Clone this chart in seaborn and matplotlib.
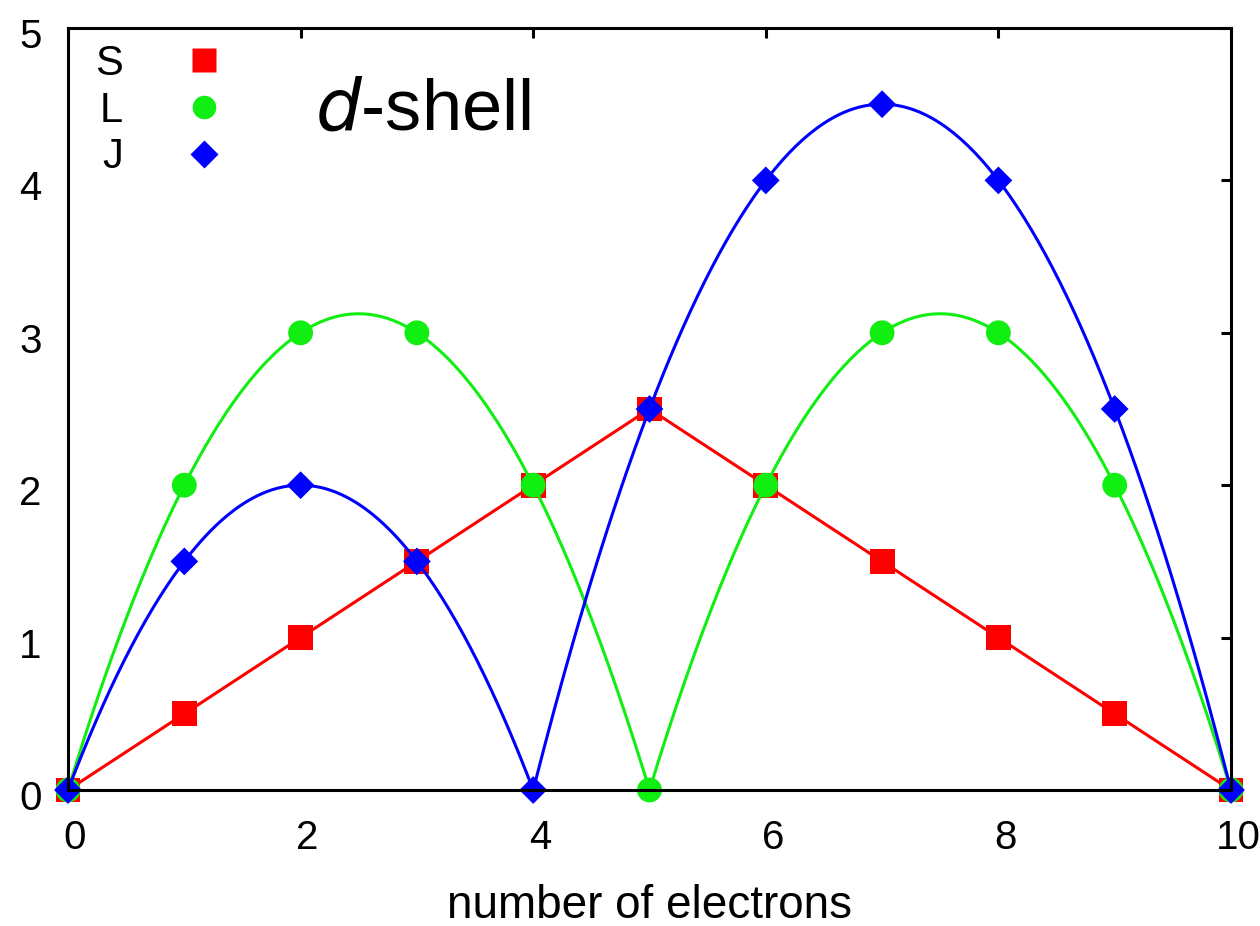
import numpy as np
import pandas as pd
import matplotlib
matplotlib.use("Agg")
import matplotlib.pyplot as plt
import matplotlib.transforms as mtransforms
import seaborn as sns
from matplotlib.lines import Line2D

# ---- data ----
n_electrons = [0, 1, 2, 3, 4, 5, 6, 7, 8, 9, 10]
S_vals = [0, 0.5, 1, 1.5, 2, 2.5, 2, 1.5, 1, 0.5, 0]
L_vals = [0, 2, 3, 3, 2, 0, 2, 3, 3, 2, 0]
J_vals = [0, 1.5, 2, 1.5, 0, 2.5, 4, 4.5, 4, 2.5, 0]
L_segments = [(0, 5), (5, 10)]
J_segments = [(0, 4), (4, 10)]
x_ticks = [0, 2, 4, 6, 8, 10]
y_ticks = [0, 1, 2, 3, 4, 5]

RED, GREEN, BLUE = "#ff0000", "#11ee11", "#0000ff"

sns.set_style("white")
plt.rcParams["font.family"] = ["Liberation Sans", "DejaVu Sans"]
for k in ["text.color", "axes.labelcolor", "xtick.color", "ytick.color"]:
    plt.rcParams[k] = "black"

W, H = 1260, 926
fig = plt.figure(figsize=(W / 100, H / 100), dpi=100)
ax = fig.add_axes([68 / W, 1 - 790 / H, (1231 - 68) / W, (790 - 28) / H])

x = np.array(n_electrons, dtype=float)


def smooth(vals, segments):
    frames = []
    for a, b in segments:
        m = (x >= a) & (x <= b)
        coef = np.polyfit(x[m], np.array(vals, dtype=float)[m], 2)
        xs = np.linspace(a, b, 200)
        frames.append(pd.DataFrame({"x": xs, "y": np.polyval(coef, xs), "seg": a}))
    return pd.concat(frames)


lw = 2.2
# S: straight lines
sns.lineplot(x=n_electrons, y=S_vals, ax=ax, color=RED, lw=lw, clip_on=False, zorder=2)
sns.scatterplot(x=n_electrons, y=S_vals, ax=ax, color=RED, marker="s", s=320,
                edgecolor="none", clip_on=False, zorder=3)
# L: smooth curves
dL = smooth(L_vals, L_segments)
for seg, g in dL.groupby("seg"):
    sns.lineplot(data=g, x="x", y="y", ax=ax, color=GREEN, lw=lw, clip_on=False,
                 zorder=4, sort=False)
sns.scatterplot(x=n_electrons, y=L_vals, ax=ax, color=GREEN, marker="o", s=320,
                edgecolor="none", clip_on=False, zorder=5)
# J: smooth curves
dJ = smooth(J_vals, J_segments)
for seg, g in dJ.groupby("seg"):
    sns.lineplot(data=g, x="x", y="y", ax=ax, color=BLUE, lw=lw, clip_on=False,
                 zorder=6, sort=False)
sns.scatterplot(x=n_electrons, y=J_vals, ax=ax, color=BLUE, marker="D", s=200,
                edgecolor="none", clip_on=False, zorder=7)

ax.set_xlim(0, 10)
ax.set_ylim(0, 5)
ax.set_xticks(x_ticks)
ax.set_yticks(y_ticks)
for sp in ax.spines.values():
    sp.set_visible(True)
    sp.set_linewidth(2.2)
    sp.set_color("black")
    sp.set_zorder(10)
ax.tick_params(direction="in", length=7.5, width=2.2, top=True, right=True,
               labelsize=29, colors="black")
ax.tick_params(axis="y", pad=19)
ax.tick_params(axis="x", pad=21)
ax.set_xlabel("number of electrons", fontsize=33, labelpad=19)
ax.set_ylabel("")

# small offsets of tick labels as in the reference
dx = mtransforms.ScaledTranslation(0.07, 0, fig.dpi_scale_trans)
for lab in ax.get_xticklabels():
    lab.set_transform(lab.get_transform() + dx)
dy = mtransforms.ScaledTranslation(0, -0.05, fig.dpi_scale_trans)
for lab in ax.get_yticklabels():
    lab.set_transform(lab.get_transform() + dy)

handles = [
    Line2D([], [], ls="none", marker="s", color=RED, markersize=17, mec="none"),
    Line2D([], [], ls="none", marker="o", color=GREEN, markersize=17, mec="none"),
    Line2D([], [], ls="none", marker="D", color=BLUE, markersize=14, mec="none"),
]
leg = ax.legend(handles, ["S", "L", "J"], loc="upper left", markerfirst=False,
                frameon=False, fontsize=30, handlelength=1.0, handletextpad=1.44,
                labelspacing=0.16, borderpad=0, borderaxespad=0,
                bbox_to_anchor=(95 / W, 1 - 44 / H), bbox_transform=fig.transFigure)

ax.text(315 / W, 1 - 130 / H, r"$\it{d}$-shell", transform=fig.transFigure,
        fontsize=52, ha="left", va="baseline")

fig.savefig("out.png", dpi=100)
